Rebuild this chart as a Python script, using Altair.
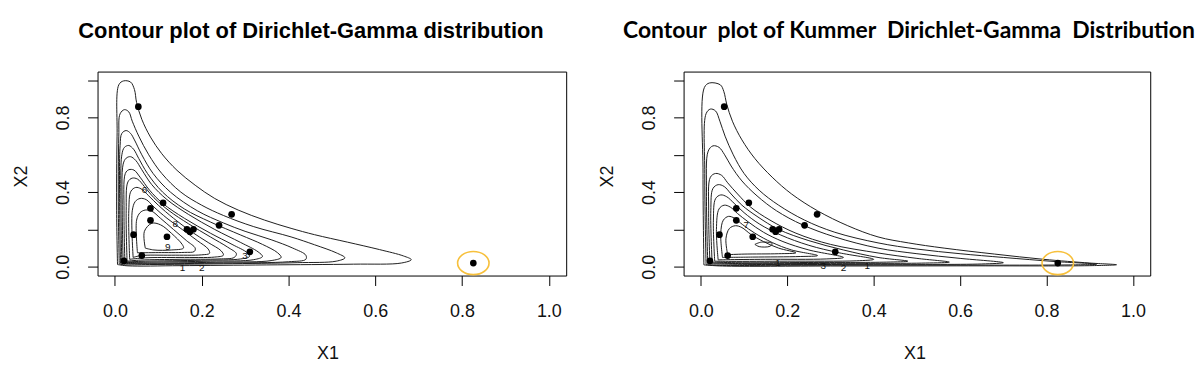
import altair as alt
import pandas as pd

# ---------------- data ----------------
x1_obs = [0.054, 0.111, 0.082, 0.269, 0.082, 0.240, 0.166, 0.173, 0.181,
          0.043, 0.120, 0.311, 0.062, 0.021, 0.826]
x2_obs = [0.858, 0.343, 0.313, 0.281, 0.249, 0.222, 0.201, 0.188, 0.201,
          0.172, 0.161, 0.080, 0.060, 0.032, 0.020]
highlighted = [False] * 14 + [True]

tick_values = [0.0, 0.2, 0.4, 0.6, 0.8, 1.0]

# traced contour lines, Dirichlet-Gamma (left panel), outermost first
dg_contours = [
    [(0.006,0.012),(0.004,0.3),(0.005,0.7),(0.009,0.975),(0.02,0.996),(0.036,0.99),(0.045,0.95),(0.05,0.88),
     (0.062,0.79),(0.082,0.695),(0.108,0.606),(0.143,0.517),(0.185,0.437),(0.23,0.366),(0.284,0.304),
     (0.345,0.25),(0.406,0.206),(0.46,0.172),(0.536,0.132),(0.61,0.092),(0.665,0.058),(0.683,0.038),
     (0.66,0.02),(0.55,0.014),(0.35,0.01),(0.15,0.006),(0.03,0.005),(0.006,0.012)],
    [(0.01,0.015),(0.008,0.3),(0.009,0.7),(0.012,0.82),(0.022,0.842),(0.032,0.83),(0.04,0.78),(0.055,0.7),
     (0.078,0.6),(0.108,0.5),(0.152,0.4),(0.2,0.33),(0.25,0.275),(0.32,0.215),(0.406,0.16),(0.46,0.118),
     (0.51,0.075),(0.53,0.048),(0.51,0.03),(0.42,0.022),(0.25,0.016),(0.08,0.012),(0.02,0.011),(0.01,0.015)],
    [(0.013,0.018),(0.011,0.3),(0.012,0.65),(0.016,0.715),(0.026,0.73),(0.036,0.715),(0.045,0.68),
     (0.062,0.6),(0.088,0.5),(0.128,0.4),(0.19,0.3),(0.25,0.235),(0.3,0.19),(0.36,0.145),(0.41,0.1),
     (0.44,0.062),(0.44,0.04),(0.4,0.027),(0.25,0.02),(0.08,0.016),(0.013,0.018)],
    [(0.016,0.02),(0.014,0.3),(0.016,0.6),(0.022,0.64),(0.032,0.65),(0.043,0.63),(0.055,0.58),(0.075,0.5),
     (0.11,0.4),(0.16,0.31),(0.22,0.24),(0.29,0.17),(0.34,0.12),(0.375,0.075),(0.383,0.05),(0.36,0.033),
     (0.25,0.025),(0.09,0.02),(0.016,0.02)],
    [(0.019,0.022),(0.017,0.3),(0.019,0.55),(0.026,0.582),(0.036,0.59),(0.048,0.57),(0.062,0.52),
     (0.085,0.44),(0.12,0.36),(0.17,0.28),(0.23,0.2),(0.29,0.13),(0.33,0.08),(0.34,0.055),(0.32,0.038),
     (0.22,0.03),(0.08,0.025),(0.019,0.022)],
    [(0.023,0.025),(0.021,0.3),(0.024,0.5),(0.032,0.52),(0.044,0.518),(0.058,0.48),(0.08,0.41),(0.11,0.34),
     (0.16,0.26),(0.22,0.18),(0.27,0.12),(0.305,0.075),(0.31,0.055),(0.29,0.042),(0.2,0.035),(0.07,0.03),
     (0.023,0.025)],
    [(0.028,0.03),(0.026,0.3),(0.03,0.455),(0.04,0.475),(0.052,0.47),(0.068,0.43),(0.09,0.37),(0.125,0.3),
     (0.17,0.23),(0.22,0.16),(0.26,0.105),(0.28,0.07),(0.275,0.05),(0.24,0.042),(0.15,0.04),(0.06,0.036),
     (0.028,0.03)],
    [(0.034,0.04),(0.032,0.3),(0.037,0.405),(0.048,0.425),(0.06,0.418),(0.078,0.38),(0.1,0.33),(0.135,0.26),
     (0.175,0.19),(0.215,0.13),(0.245,0.085),(0.25,0.062),(0.23,0.052),(0.15,0.05),(0.07,0.048),(0.034,0.04)],
    [(0.042,0.05),(0.04,0.3),(0.047,0.35),(0.058,0.366),(0.072,0.36),(0.09,0.32),(0.12,0.26),(0.155,0.2),
     (0.19,0.14),(0.215,0.095),(0.218,0.072),(0.2,0.064),(0.13,0.062),(0.06,0.06),(0.042,0.05)],
    [(0.052,0.075),(0.05,0.25),(0.058,0.29),(0.07,0.304),(0.085,0.298),(0.105,0.26),(0.135,0.2),
     (0.165,0.14),(0.185,0.1),(0.183,0.082),(0.16,0.077),(0.1,0.076),(0.052,0.075)],
    [(0.07,0.1),(0.068,0.19),(0.085,0.233),(0.105,0.225),(0.13,0.18),(0.155,0.12),(0.158,0.1),(0.13,0.09),
     (0.09,0.09),(0.07,0.1)],
]

# traced contour lines, Kummer Dirichlet-Gamma (right panel), outermost first
kdg_contours = [
    [(0.007,0.01),(0.005,0.5),(0.008,0.96),(0.02,0.985),(0.045,0.975),(0.053,0.94),(0.06,0.87),(0.073,0.78),
     (0.095,0.68),(0.125,0.58),(0.165,0.48),(0.21,0.39),(0.27,0.3),(0.34,0.22),(0.41,0.16),(0.48,0.128),
     (0.563,0.1),(0.68,0.068),(0.793,0.04),(0.9,0.02),(0.962,0.011),(0.9,0.006),(0.6,0.005),(0.3,0.004),
     (0.05,0.004),(0.007,0.01)],
    [(0.012,0.012),(0.009,0.5),(0.012,0.82),(0.022,0.845),(0.034,0.835),(0.044,0.78),(0.056,0.7),
     (0.075,0.6),(0.1,0.5),(0.135,0.41),(0.18,0.33),(0.24,0.25),(0.31,0.185),(0.41,0.128),(0.5,0.095),
     (0.6,0.07),(0.7,0.05),(0.82,0.028),(0.916,0.014),(0.85,0.01),(0.5,0.009),(0.2,0.008),(0.03,0.008),
     (0.012,0.012)],
    [(0.016,0.015),(0.013,0.4),(0.017,0.62),(0.028,0.648),(0.042,0.64),(0.055,0.6),(0.07,0.54),(0.095,0.46),
     (0.13,0.38),(0.175,0.3),(0.235,0.225),(0.31,0.16),(0.41,0.1),(0.5,0.07),(0.6,0.045),(0.7,0.022),
     (0.65,0.015),(0.4,0.013),(0.15,0.012),(0.016,0.015)],
    [(0.021,0.02),(0.018,0.3),(0.022,0.48),(0.034,0.5),(0.048,0.49),(0.062,0.45),(0.085,0.39),(0.115,0.32),
     (0.16,0.25),(0.22,0.18),(0.3,0.12),(0.41,0.074),(0.5,0.045),(0.575,0.025),(0.52,0.02),(0.3,0.018),
     (0.1,0.017),(0.021,0.02)],
    [(0.026,0.025),(0.023,0.3),(0.028,0.42),(0.04,0.44),(0.054,0.43),(0.07,0.39),(0.095,0.33),(0.13,0.27),
     (0.18,0.2),(0.25,0.14),(0.33,0.09),(0.41,0.05),(0.479,0.03),(0.43,0.025),(0.25,0.023),(0.08,0.022),
     (0.026,0.025)],
    [(0.032,0.03),(0.029,0.25),(0.034,0.365),(0.046,0.385),(0.06,0.375),(0.077,0.34),(0.1,0.29),
     (0.135,0.23),(0.185,0.17),(0.25,0.115),(0.32,0.075),(0.4,0.04),(0.36,0.032),(0.2,0.03),(0.07,0.029),
     (0.032,0.03)],
    [(0.04,0.037),(0.036,0.2),(0.042,0.31),(0.054,0.33),(0.068,0.32),(0.085,0.285),(0.11,0.24),
     (0.145,0.185),(0.19,0.135),(0.25,0.09),(0.33,0.05),(0.29,0.042),(0.15,0.04),(0.06,0.038),(0.04,0.037)],
    [(0.05,0.05),(0.046,0.18),(0.052,0.25),(0.064,0.27),(0.078,0.26),(0.097,0.225),(0.125,0.18),
     (0.165,0.13),(0.21,0.09),(0.27,0.06),(0.23,0.055),(0.12,0.052),(0.05,0.05)],
    [(0.062,0.065),(0.058,0.15),(0.066,0.205),(0.08,0.22),(0.095,0.21),(0.115,0.175),(0.145,0.135),
     (0.18,0.1),(0.22,0.075),(0.18,0.07),(0.1,0.068),(0.062,0.065)],
    [(0.125,0.12),(0.14,0.132),(0.165,0.125),(0.16,0.11),(0.135,0.108),(0.125,0.12)],
]

# contour level labels (text, x, y)
dg_labels = [("6", 0.068, 0.414), ("8", 0.139, 0.229), ("9", 0.122, 0.108),
             ("3", 0.300, 0.055), ("1", 0.156, -0.004), ("2", 0.200, -0.008)]
kdg_labels = [("7", 0.105, 0.224), ("1", 0.178, 0.018), ("3", 0.283, 0.006),
              ("2", 0.330, -0.004), ("1", 0.385, 0.004)]

X_DOMAIN = [-0.04, 1.04]
Y_DOMAIN = [-0.047, 1.046]


def contour_frame(contours):
    rows = []
    for cid, pts in enumerate(contours):
        for k, (x, y) in enumerate(pts):
            rows.append({"cid": cid, "k": k, "x": x, "y": y})
    return pd.DataFrame(rows)


points_df = pd.DataFrame({"x": x1_obs, "y": x2_obs, "hl": highlighted})
ellipse_path = "M -1 0 A 1 0.737 0 1 0 1 0 A 1 0.737 0 1 0 -1 0 Z"


def panel(contours, labels, title_text, title_font, title_size, title_dx, title_offset,
          width, xtitle_x):
    xs = alt.Scale(domain=X_DOMAIN, nice=False, zero=False)
    ys = alt.Scale(domain=Y_DOMAIN, nice=False, zero=False)
    xaxis = alt.Axis(values=tick_values, format=".1f", grid=False, domain=False,
                     tickSize=10, tickColor="black", tickWidth=1,
                     labelFont="Liberation Sans", labelFontSize=18, labelColor="#111",
                     labelPadding=17, labelFlush=False,
                     title="X1", titleFont="Liberation Sans", titleFontSize=18,
                     titleFontWeight="normal", titleColor="#111",
                     titleX=xtitle_x, titleY=78, titleAlign="center", titleBaseline="middle")
    yaxis = alt.Axis(values=tick_values, grid=False, domain=False,
                     labelExpr="(abs(datum.value) < 0.001 || abs(datum.value - 0.4) < 0.001 || abs(datum.value - 0.8) < 0.001) ? format(datum.value, '.1f') : ''",
                     tickSize=10, tickColor="black", tickWidth=1,
                     labelFont="Liberation Sans", labelFontSize=18, labelColor="#111",
                     labelAngle=270, labelAlign="center", labelBaseline="bottom",
                     labelPadding=15, labelFlush=False,
                     title="X2", titleFont="Liberation Sans", titleFontSize=18,
                     titleFontWeight="normal", titleColor="#111",
                     titleX=-76, titleY=105, titleAngle=270, titleAlign="center",
                     titleBaseline="middle")

    cdf = contour_frame(contours)
    lines = alt.Chart(cdf).mark_line(interpolate="catmull-rom", color="#1e1e1e",
                                     strokeWidth=1, clip=True).encode(
        x=alt.X("x:Q", scale=xs, axis=xaxis),
        y=alt.Y("y:Q", scale=ys, axis=yaxis),
        detail="cid:N",
        order="k:Q",
    )
    ldf = pd.DataFrame(labels, columns=["t", "x", "y"])
    lbl = alt.Chart(ldf).mark_text(font="Liberation Sans", fontSize=10,
                                   color="#111").encode(
        x=alt.X("x:Q", scale=xs), y=alt.Y("y:Q", scale=ys), text="t:N")
    pts = alt.Chart(points_df).mark_circle(size=45, color="black", opacity=1).encode(
        x=alt.X("x:Q", scale=xs), y=alt.Y("y:Q", scale=ys))
    ring = alt.Chart(points_df).transform_filter("datum.hl").mark_point(
        shape=ellipse_path, size=1000, filled=False, stroke="#F7C03C",
        strokeWidth=1.6, opacity=1).encode(
        x=alt.X("x:Q", scale=xs), y=alt.Y("y:Q", scale=ys))
    return alt.layer(lines, lbl, pts, ring).properties(
        width=width, height=205,
        title=alt.TitleParams(title_text, font=title_font, fontSize=title_size,
                              fontWeight="bold", color="black", anchor="middle",
                              frame="group", dx=title_dx, offset=title_offset,
                              baseline="alphabetic"))


left = panel(dg_contours, dg_labels, "Contour plot of Dirichlet-Gamma distribution",
             "Liberation Sans", 22, -21, 12, 471, 231)
right = panel(kdg_contours, kdg_labels,
              "Contour\u00a0 plot of Kummer\u00a0 Dirichlet-Gamma\u00a0 Distribution",
              "Lato", 23, -8, 11, 469, 232)

chart = alt.hconcat(left, right, spacing=31).configure_view(
    stroke="black", strokeWidth=1).properties(
    padding={"left": 4, "top": 10, "right": 0, "bottom": 0},
    background="white")

chart.save("out.html", embed_options={"renderer": "svg", "actions": False})
